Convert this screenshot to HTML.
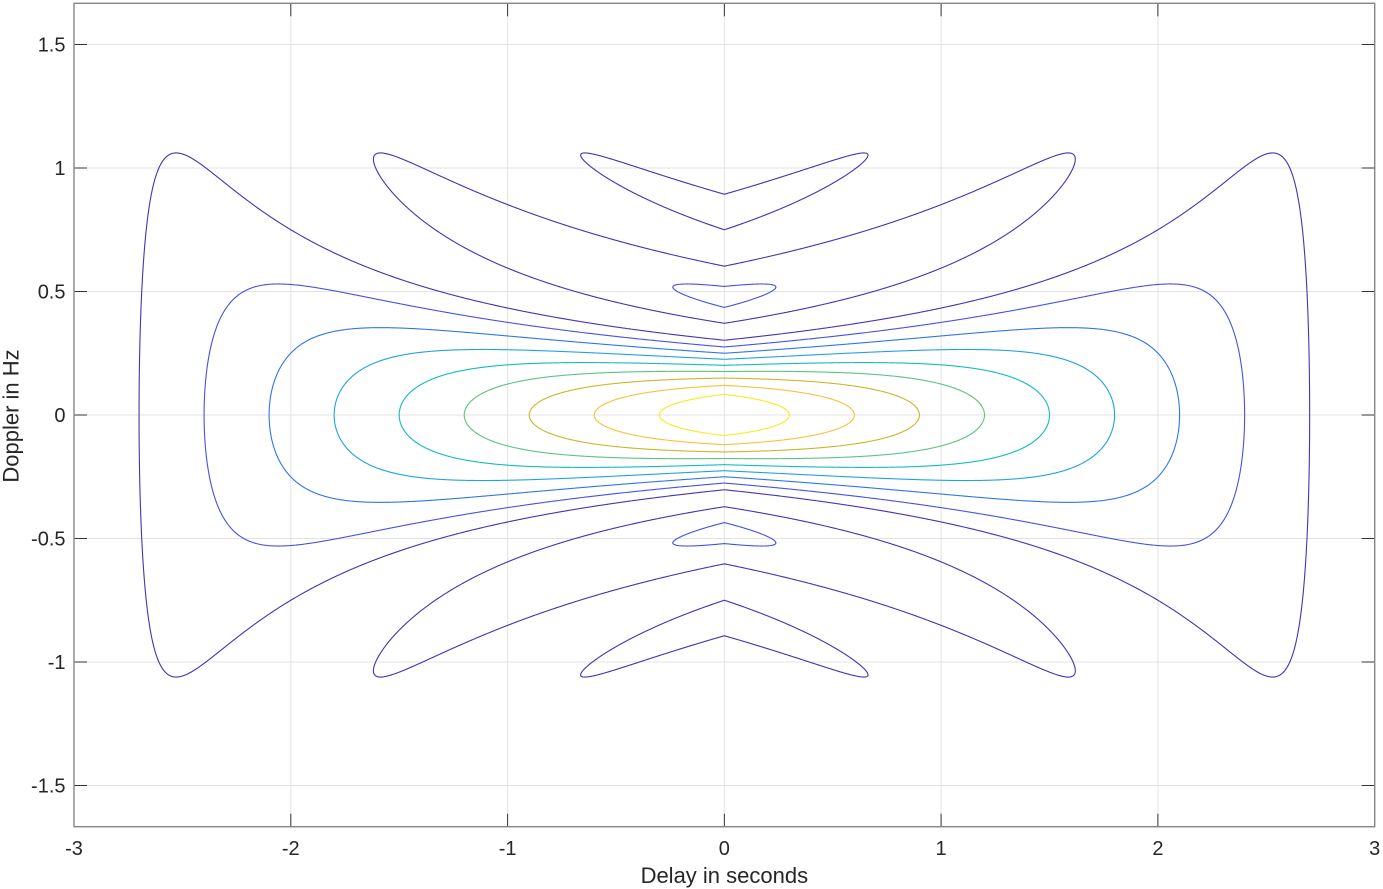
<!DOCTYPE html>
<html>
<head>
<meta charset="utf-8">
<style>
  html,body{margin:0;padding:0;background:#fff;}
  body{width:1383px;height:889px;overflow:hidden;}
  svg{display:block;}
  text{font-family:"Liberation Sans",Arial,Helvetica,sans-serif;fill:#262626;}
</style>
</head>
<body>
<svg id="svg" width="1383" height="889" viewBox="0 0 1383 889" xmlns="http://www.w3.org/2000/svg">
  <rect x="0" y="0" width="1383" height="889" fill="#ffffff"/>
  <!-- grid -->
  <g stroke="#e3e3e3" stroke-width="1" fill="none">
    <line x1="290.8" y1="3.3" x2="290.8" y2="826.7"/>
    <line x1="507.6" y1="3.3" x2="507.6" y2="826.7"/>
    <line x1="724.35" y1="3.3" x2="724.35" y2="826.7"/>
    <line x1="941.1" y1="3.3" x2="941.1" y2="826.7"/>
    <line x1="1157.9" y1="3.3" x2="1157.9" y2="826.7"/>
    <line x1="74" y1="44.5" x2="1374.7" y2="44.5"/>
    <line x1="74" y1="168" x2="1374.7" y2="168"/>
    <line x1="74" y1="291.5" x2="1374.7" y2="291.5"/>
    <line x1="74" y1="415" x2="1374.7" y2="415"/>
    <line x1="74" y1="538.5" x2="1374.7" y2="538.5"/>
    <line x1="74" y1="662" x2="1374.7" y2="662"/>
    <line x1="74" y1="785.5" x2="1374.7" y2="785.5"/>
  </g>
  <!-- contours inserted here -->
  <g id="contours" fill="none" stroke-width="1.1" stroke-linecap="round" stroke-linejoin="round"></g>
  <!-- ticks -->
  <g stroke="#333333" stroke-width="1" fill="none">
    <!-- bottom -->
    <line x1="290.8" y1="826.7" x2="290.8" y2="813.7"/>
    <line x1="507.6" y1="826.7" x2="507.6" y2="813.7"/>
    <line x1="724.35" y1="826.7" x2="724.35" y2="813.7"/>
    <line x1="941.1" y1="826.7" x2="941.1" y2="813.7"/>
    <line x1="1157.9" y1="826.7" x2="1157.9" y2="813.7"/>
    <!-- top -->
    <line x1="290.8" y1="3.3" x2="290.8" y2="16.3"/>
    <line x1="507.6" y1="3.3" x2="507.6" y2="16.3"/>
    <line x1="724.35" y1="3.3" x2="724.35" y2="16.3"/>
    <line x1="941.1" y1="3.3" x2="941.1" y2="16.3"/>
    <line x1="1157.9" y1="3.3" x2="1157.9" y2="16.3"/>
    <!-- left -->
    <line x1="74" y1="44.5" x2="87" y2="44.5"/>
    <line x1="74" y1="168" x2="87" y2="168"/>
    <line x1="74" y1="291.5" x2="87" y2="291.5"/>
    <line x1="74" y1="415" x2="87" y2="415"/>
    <line x1="74" y1="538.5" x2="87" y2="538.5"/>
    <line x1="74" y1="662" x2="87" y2="662"/>
    <line x1="74" y1="785.5" x2="87" y2="785.5"/>
    <!-- right -->
    <line x1="1374.7" y1="44.5" x2="1361.7" y2="44.5"/>
    <line x1="1374.7" y1="168" x2="1361.7" y2="168"/>
    <line x1="1374.7" y1="291.5" x2="1361.7" y2="291.5"/>
    <line x1="1374.7" y1="415" x2="1361.7" y2="415"/>
    <line x1="1374.7" y1="538.5" x2="1361.7" y2="538.5"/>
    <line x1="1374.7" y1="662" x2="1361.7" y2="662"/>
    <line x1="1374.7" y1="785.5" x2="1361.7" y2="785.5"/>
  </g>
  <!-- axes box -->
  <rect x="74" y="3.3" width="1300.7" height="823.4" fill="none" stroke="#858585" stroke-width="1.4"/>
  <!-- x tick labels -->
  <g font-size="20" text-anchor="middle">
    <text x="74" y="855">-3</text>
    <text x="290.8" y="855">-2</text>
    <text x="507.6" y="855">-1</text>
    <text x="724.35" y="855">0</text>
    <text x="941.1" y="855">1</text>
    <text x="1157.9" y="855">2</text>
    <text x="1374.7" y="855">3</text>
  </g>
  <!-- y tick labels -->
  <g font-size="20" text-anchor="end">
    <text x="65.5" y="51.6">1.5</text>
    <text x="65.5" y="175.1">1</text>
    <text x="65.5" y="298.6">0.5</text>
    <text x="65.5" y="422.1">0</text>
    <text x="65.5" y="545.6">-0.5</text>
    <text x="65.5" y="669.1">-1</text>
    <text x="65.5" y="792.6">-1.5</text>
  </g>
  <!-- axis labels -->
  <text x="724.35" y="883" font-size="22" text-anchor="middle">Delay in seconds</text>
  <text transform="translate(18.3,416) rotate(-90)" x="0" y="0" font-size="22" text-anchor="middle">Doppler in Hz</text>
</svg>
<script>
(function(){
  var T = 3;
  function Z(t, f){
    var a = Math.abs(t);
    if (a >= T) return 0;
    var Lg = T - a;
    var x = f * Lg;
    var s;
    if (Math.abs(x) < 1e-12) s = 1;
    else s = Math.sin(Math.PI * x) / (Math.PI * x);
    return (1 - a / T) * Math.abs(s);
  }
  var dt = 0.005, df = 0.004;
  var nx = Math.round(6 / dt) + 1;          // t from -3 to 3
  var fmin = -1.24;
  var ny = Math.round(2.48 / df) + 1;       // f from -1.24 to 1.24
  var tv = new Float64Array(nx), fv = new Float64Array(ny);
  for (var i = 0; i < nx; i++) tv[i] = -3 + i * dt;
  for (var j = 0; j < ny; j++) fv[j] = fmin + j * df;
  var grid = new Float64Array(nx * ny);
  for (var j2 = 0; j2 < ny; j2++)
    for (var i2 = 0; i2 < nx; i2++)
      grid[j2 * nx + i2] = Z(tv[i2], fv[j2]);

  function X(t){ return 724.35 + t * 216.78; }
  function Y(f){ return 415 - f * 247; }

  var levels = [0.1,0.2,0.3,0.4,0.5,0.6,0.7,0.8,0.9];
  var colors = ["#4433b4","#4650e4","#2f74ec","#1fa2e2","#14bbbb","#5cc37c","#c9b62a","#f9c13a","#f6ec1e"];
  var g = document.getElementById("contours");
  var NS = "http://www.w3.org/2000/svg";

  for (var k = 0; k < levels.length; k++){
    var L = levels[k];
    var parts = [];
    for (var j = 0; j < ny - 1; j++){
      for (var i = 0; i < nx - 1; i++){
        var v0 = grid[j*nx+i], v1 = grid[j*nx+i+1], v2 = grid[(j+1)*nx+i+1], v3 = grid[(j+1)*nx+i];
        var idx = (v0 > L ? 1 : 0) | (v1 > L ? 2 : 0) | (v2 > L ? 4 : 0) | (v3 > L ? 8 : 0);
        if (idx === 0 || idx === 15) continue;
        var t0 = tv[i], t1 = tv[i+1], f0 = fv[j], f1 = fv[j+1];
        var pts = [null,null,null,null];
        // edge0: v0-v1 (bottom f0)
        if ((v0 > L) !== (v1 > L)) { var a = (L - v0)/(v1 - v0); pts[0] = [t0 + a*(t1-t0), f0]; }
        // edge1: v1-v2 (right t1)
        if ((v1 > L) !== (v2 > L)) { var b = (L - v1)/(v2 - v1); pts[1] = [t1, f0 + b*(f1-f0)]; }
        // edge2: v2-v3 (top f1)
        if ((v2 > L) !== (v3 > L)) { var c = (L - v2)/(v3 - v2); pts[2] = [t1 + c*(t0-t1), f1]; }
        // edge3: v3-v0 (left t0)
        if ((v3 > L) !== (v0 > L)) { var d = (L - v3)/(v0 - v3); pts[3] = [t0, f1 + d*(f0-f1)]; }
        var segs = [];
        if (idx === 5 || idx === 10){
          var center = (v0+v1+v2+v3)/4 > L;
          if ((idx === 5 && center) || (idx === 10 && !center)){
            segs.push([pts[0],pts[1]]); segs.push([pts[2],pts[3]]);
          } else {
            segs.push([pts[3],pts[0]]); segs.push([pts[1],pts[2]]);
          }
        } else {
          var list = [];
          for (var e = 0; e < 4; e++) if (pts[e]) list.push(pts[e]);
          if (list.length === 2) segs.push([list[0], list[1]]);
        }
        for (var s = 0; s < segs.length; s++){
          var p = segs[s][0], q = segs[s][1];
          if (!p || !q) continue;
          parts.push("M" + X(p[0]).toFixed(2) + " " + Y(p[1]).toFixed(2) + "L" + X(q[0]).toFixed(2) + " " + Y(q[1]).toFixed(2));
        }
      }
    }
    var path = document.createElementNS(NS, "path");
    path.setAttribute("d", parts.join(""));
    path.setAttribute("stroke", colors[k]);
    g.appendChild(path);
  }
})();
</script>
</body>
</html>
